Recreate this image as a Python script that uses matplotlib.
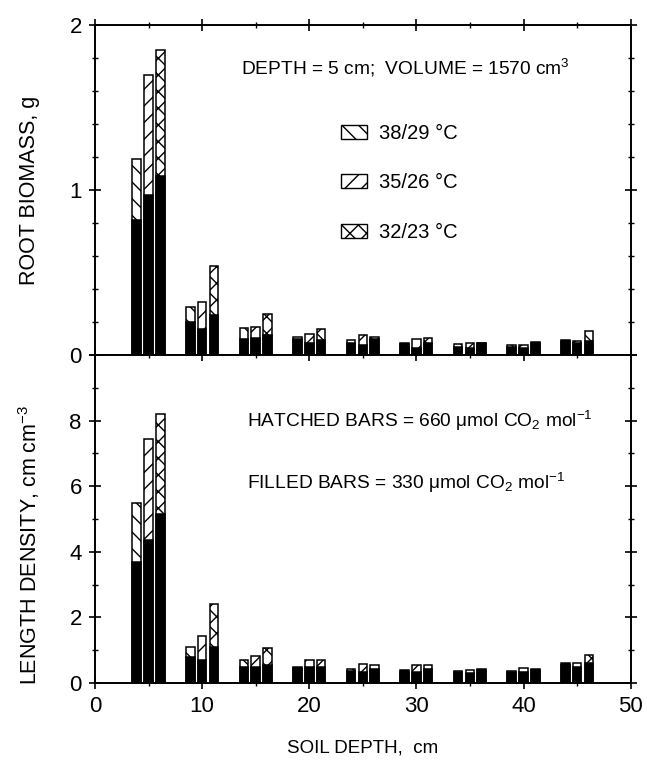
import matplotlib
matplotlib.use("Agg")
import matplotlib.pyplot as plt
from matplotlib.patches import Patch
from matplotlib.ticker import MultipleLocator

plt.rcParams['font.family'] = ['Liberation Sans', 'DejaVu Sans']
plt.rcParams['mathtext.fontset'] = 'custom'
plt.rcParams['mathtext.rm'] = 'Liberation Sans'
plt.rcParams['mathtext.it'] = 'Liberation Sans:italic'
plt.rcParams['hatch.linewidth'] = 1.0

# soil layers (cm) and day/night temperature regimes
depths = [5, 10, 15, 20, 25, 30, 35, 40, 45]
regimes = ['38/29 °C', '35/26 °C', '32/23 °C']
hatches = ['\\\\', '//', 'xx']

# root biomass (g), 660 umol/mol CO2
bio_660_38 = [1.19, 0.29, 0.165, 0.11, 0.09, 0.065, 0.065, 0.06, 0.085]
bio_660_35 = [1.70, 0.32, 0.17, 0.13, 0.12, 0.095, 0.07, 0.06, 0.085]
bio_660_32 = [1.85, 0.54, 0.25, 0.16, 0.11, 0.105, 0.07, 0.075, 0.145]
# root biomass (g), 330 umol/mol CO2
bio_330_38 = [0.82, 0.20, 0.10, 0.10, 0.07, 0.07, 0.05, 0.05, 0.09]
bio_330_35 = [0.97, 0.16, 0.105, 0.07, 0.06, 0.045, 0.04, 0.04, 0.075]
bio_330_32 = [1.085, 0.24, 0.12, 0.09, 0.095, 0.07, 0.075, 0.08, 0.085]

# root length density (cm cm-3), 660 umol/mol CO2
len_660_38 = [5.5, 1.11, 0.70, 0.45, 0.43, 0.35, 0.38, 0.38, 0.55]
len_660_35 = [7.45, 1.44, 0.83, 0.69, 0.58, 0.54, 0.40, 0.45, 0.62]
len_660_32 = [8.2, 2.40, 1.06, 0.69, 0.54, 0.54, 0.40, 0.40, 0.85]
# root length density (cm cm-3), 330 umol/mol CO2
len_330_38 = [3.7, 0.78, 0.48, 0.50, 0.37, 0.39, 0.32, 0.33, 0.60]
len_330_35 = [4.35, 0.70, 0.48, 0.48, 0.35, 0.32, 0.30, 0.35, 0.50]
len_330_32 = [5.15, 1.11, 0.55, 0.48, 0.44, 0.42, 0.42, 0.42, 0.62]

offsets = [-1.1, 0.0, 1.1]
width = 0.8

fig = plt.figure(figsize=(6.47, 7.65), dpi=100)
ax1 = fig.add_axes([0.1468, 0.5359, 0.828, 0.4314])
ax2 = fig.add_axes([0.1468, 0.1072, 0.828, 0.4287])


def draw_bars(ax, high, low):
    # hatched 660 bars behind, filled 330 bars in front
    for k in range(3):
        xs = [d + offsets[k] for d in depths]
        ax.bar(xs, high[k], width=width, facecolor='white', edgecolor='black',
               hatch=hatches[k], linewidth=1.1, zorder=2)
        ax.bar(xs, low[k], width=width, facecolor='black', edgecolor='black',
               linewidth=1.1, zorder=3)


draw_bars(ax1, [bio_660_38, bio_660_35, bio_660_32],
          [bio_330_38, bio_330_35, bio_330_32])
draw_bars(ax2, [len_660_38, len_660_35, len_660_32],
          [len_330_38, len_330_35, len_330_32])

for ax in (ax1, ax2):
    ax.set_xlim(0, 50)
    ax.xaxis.set_major_locator(MultipleLocator(10))
    ax.xaxis.set_minor_locator(MultipleLocator(5))
    ax.tick_params(which='major', direction='inout', length=9, width=1.2,
                   top=True, right=True, labelsize=16, pad=5)
    ax.tick_params(which='minor', direction='inout', length=5, width=1.0,
                   top=True, right=True)
    for s in ax.spines.values():
        s.set_linewidth(1.4)

ax1.set_ylim(0, 2)
ax1.set_yticks([0, 1, 2])
ax1.yaxis.set_minor_locator(MultipleLocator(0.2))
ax1.tick_params(labelbottom=False)
ax1.set_ylabel('ROOT BIOMASS, g', fontsize=15.5)
ax1.yaxis.set_label_coords(-0.102, 0.5)

ax2.set_ylim(0, 10)
ax2.set_yticks([0, 2, 4, 6, 8, 10])
ax2.set_yticklabels(['0', '2', '4', '6', '8', ''])
ax2.yaxis.set_minor_locator(MultipleLocator(1))
ax2.set_ylabel('LENGTH DENSITY, cm cm$^{-3}$', fontsize=15.5)
ax2.yaxis.set_label_coords(-0.098, 0.42)
ax2.set_xlabel('SOIL DEPTH,  cm', fontsize=13.5, labelpad=16)

ax1.text(0.272, 0.87, 'DEPTH = 5 cm;  VOLUME = 1570 cm$^3$', fontsize=13.8,
         transform=ax1.transAxes, ha='left', va='center')

handles = [Patch(facecolor='white', edgecolor='black', hatch=h, linewidth=1.0)
           for h in hatches]
ax1.legend(handles, regimes, loc='upper left', bbox_to_anchor=(0.44, 0.73),
           frameon=False, fontsize=14.5, handlelength=1.3, handleheight=0.7,
           labelspacing=1.5, handletextpad=0.6, borderpad=0)

ax2.text(0.284, 0.80, 'HATCHED BARS = 660 μmol CO$_2$ mol$^{-1}$', fontsize=13.8,
         transform=ax2.transAxes, ha='left', va='center')
ax2.text(0.284, 0.61, 'FILLED BARS = 330 μmol CO$_2$ mol$^{-1}$', fontsize=13.8,
         transform=ax2.transAxes, ha='left', va='center')

fig.savefig('out.png', dpi=100)
